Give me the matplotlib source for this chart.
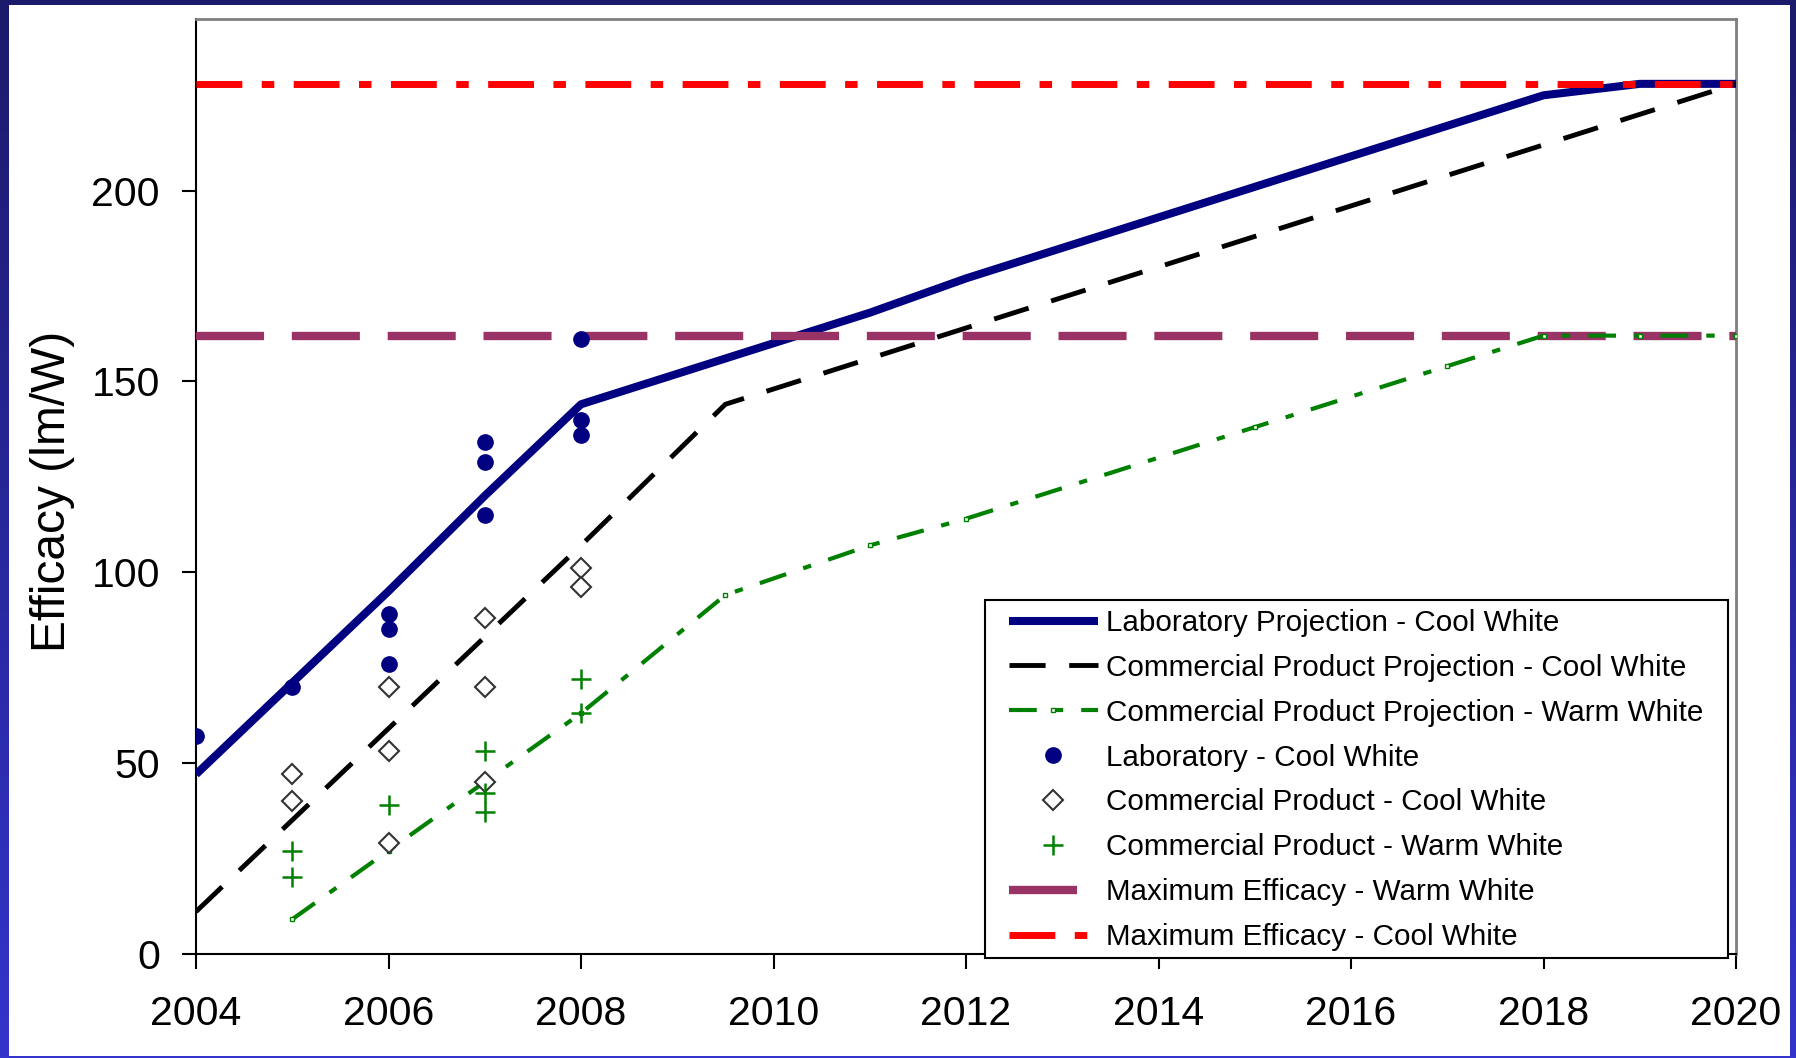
import numpy as np
import matplotlib
matplotlib.use('Agg')
import matplotlib.pyplot as plt
from matplotlib.patches import Rectangle
from matplotlib.colors import LinearSegmentedColormap

plt.rcParams['font.family'] = ['Liberation Sans', 'DejaVu Sans']
plt.rcParams['lines.scale_dashes'] = False

# projection lines
lab_proj_years = [2004, 2005, 2006, 2007, 2008, 2009, 2010, 2011, 2012, 2013, 2014,
                  2015, 2016, 2017, 2018, 2019, 2020]
lab_proj_vals = [47, 71, 95, 120, 144, 152, 160, 168, 177, 185, 193,
                 201, 209, 217, 225, 228, 228]

cool_proj_years = [2004, 2005, 2006, 2007, 2008, 2009.5, 2012, 2014, 2016, 2018, 2020]
cool_proj_vals = [11, 35, 59, 83, 107, 144, 164, 180, 196, 212, 228]

warm_proj_years = [2005, 2006, 2007, 2008, 2009.5, 2011, 2012, 2015, 2017, 2018, 2019, 2020]
warm_proj_vals = [9, 27, 45, 63, 94, 107, 114, 138, 154, 162, 162, 162]

# maximum efficacy
limit_years = [2004, 2020]
max_warm = 162
max_cool = 228

# measured points
lab_years = [2004, 2005, 2006, 2006, 2006, 2007, 2007, 2007, 2008, 2008, 2008]
lab_vals = [57, 70, 89, 85, 76, 134, 129, 115, 161, 140, 136]

cool_years = [2005, 2005, 2006, 2006, 2006, 2007, 2007, 2007, 2008, 2008]
cool_vals = [47, 40, 70, 53, 29, 88, 70, 45, 101, 96]

warm_years = [2005, 2005, 2006, 2007, 2007, 2007, 2008, 2008]
warm_vals = [27, 20, 39, 53, 42, 37, 72, 63]

W, H = 1796, 1058
fig = plt.figure(figsize=(W / 100, H / 100), dpi=100)

# blue slide border
bg = fig.add_axes([0, 0, 1, 1], zorder=-10)
cmap = LinearSegmentedColormap.from_list('border', ['#1c1a6a', '#3434cc'])
bg.imshow(np.linspace(0, 1, 256).reshape(-1, 1), aspect='auto', cmap=cmap,
          extent=[0, 1, 0, 1], origin='upper')
bg.add_patch(Rectangle((9 / W, 2 / H), (1790 - 9) / W, (1053 - 2) / H,
                       facecolor='white', edgecolor='none'))
bg.set_xlim(0, 1)
bg.set_ylim(0, 1)
bg.axis('off')

ax = fig.add_axes([196 / W, 1 - 953.6 / H, (1736 - 196) / W, (953.6 - 19) / H])

h_lab, = ax.plot(lab_proj_years, lab_proj_vals, color='#000080', lw=5.8,
                 solid_capstyle='butt', zorder=3,
                 label='Laboratory Projection - Cool White')
h_cool, = ax.plot(cool_proj_years, cool_proj_vals, color='black', lw=3.5,
                  dashes=(26, 17), zorder=3,
                  label='Commercial Product Projection - Cool White')
h_mw, = ax.plot(limit_years, [max_warm, max_warm], color='#993366', lw=6,
                dashes=(49, 20), zorder=3, label='Maximum Efficacy - Warm White')
h_warm, = ax.plot(warm_proj_years, warm_proj_vals, color='#008000', lw=3,
                  dashes=(20, 13, 6, 13), marker='s', ms=3.5, mfc='white',
                  mec='#008000', mew=1, zorder=3,
                  label='Commercial Product Projection - Warm White')
h_mc, = ax.plot(limit_years, [max_cool, max_cool], color='#ff0000', lw=5,
                dashes=(33, 14, 9, 14), zorder=3, label='Maximum Efficacy - Cool White')

h_pl, = ax.plot(lab_years, lab_vals, 'o', color='#000080', ms=11, ls='none',
                zorder=4, label='Laboratory - Cool White')
h_pc, = ax.plot(cool_years, cool_vals, 'D', mfc='white', mec='#333333', ms=10,
                mew=1.5, ls='none', zorder=4, label='Commercial Product - Cool White')
h_pw, = ax.plot(warm_years, warm_vals, '+', color='#008000', ms=15, mew=1.8,
                ls='none', zorder=4, label='Commercial Product - Warm White')

ax.set_xlim(2004, 2020)
ax.set_ylim(0, 245)
ax.set_xticks(range(2004, 2021, 2))
ax.set_yticks([0, 50, 100, 150, 200])
ax.tick_params(axis='both', direction='out', width=1.5, labelsize=29.5, colors='black')
ax.tick_params(axis='y', length=10, pad=16)
ax.tick_params(axis='x', length=11, pad=19)
for s in ['left', 'bottom']:
    ax.spines[s].set_color('black')
    ax.spines[s].set_linewidth(1.5)
for s in ['top', 'right']:
    ax.spines[s].set_color('#808080')
    ax.spines[s].set_linewidth(2)

fig.text(53 / W, 1 - 491 / H, 'Efficacy (lm/W)', rotation=90, ha='center',
         va='center', fontsize=34.5)

# legend box
ax.add_patch(Rectangle((985 / W, 1 - 957.6 / H), (1728 - 985) / W, (957.6 - 600) / H,
                       transform=fig.transFigure, facecolor='white', edgecolor='black',
                       lw=1.5, zorder=6, clip_on=False))
handles = [h_lab, h_cool, h_warm, h_pl, h_pc, h_pw, h_mw, h_mc]
leg = ax.legend(handles=handles, loc='center left', frameon=False, fontsize=21.3,
                bbox_to_anchor=(1009 / W, 1 - 780 / H), bbox_transform=fig.transFigure,
                borderpad=0, borderaxespad=0, handlelength=3.0, handletextpad=0.27,
                labelspacing=0.57, numpoints=1)
leg.set_zorder(7)

fig.savefig('out.png', dpi=100)
